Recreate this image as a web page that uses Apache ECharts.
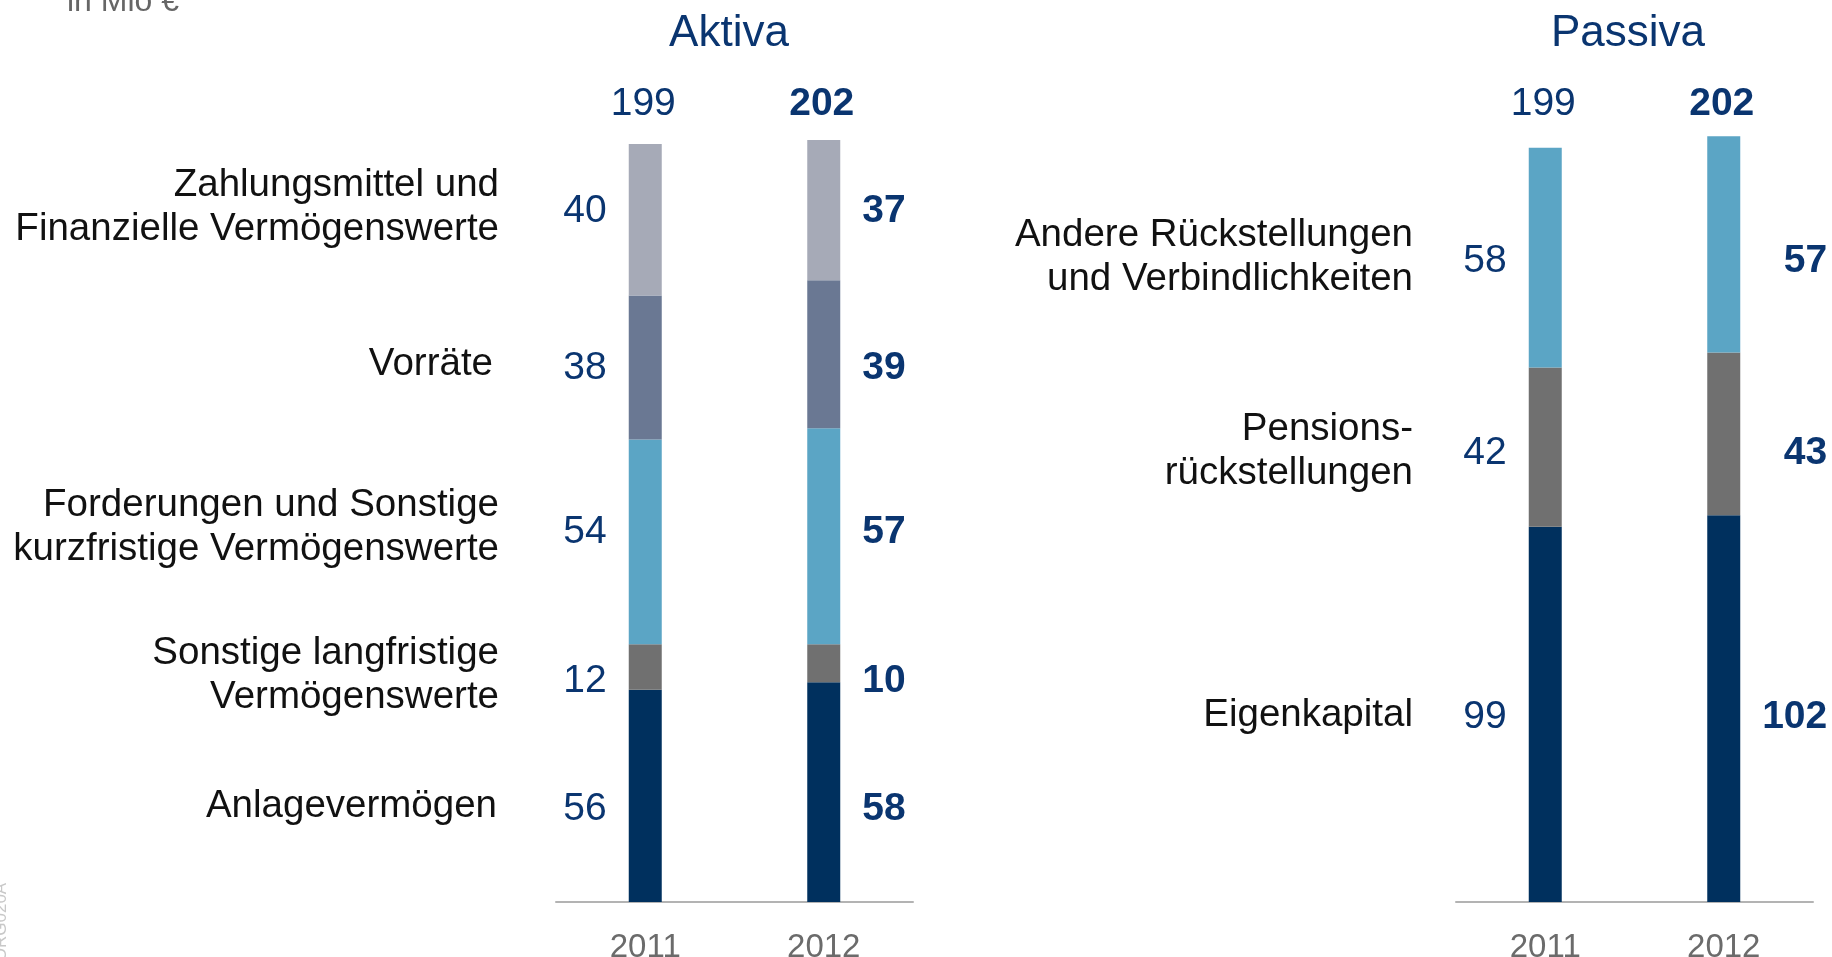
<!DOCTYPE html>
<html>
<head>
<meta charset="utf-8">
<script src="https://cdn.jsdelivr.net/npm/echarts@6/dist/echarts.min.js"></script>
<style>
html,body{margin:0;padding:0;background:#fff;}
#c{width:1832px;height:957px;}
</style>
</head>
<body>
<div id="c"></div>
<script>
// ---- data ----
const years = ['2011', '2012'];
const aktivaNames = ['Anlagevermögen', 'Sonstige langfristige\nVermögenswerte', 'Forderungen und Sonstige\nkurzfristige Vermögenswerte', 'Vorräte', 'Zahlungsmittel und\nFinanzielle Vermögenswerte'];
const aktiva2011 = [56, 12, 54, 38, 40];
const aktiva2012 = [58, 10, 57, 39, 37];
const aktivaTotals = [199, 202];
const passivaNames = ['Eigenkapital', 'Pensions-\nrückstellungen', 'Andere Rückstellungen\nund Verbindlichkeiten'];
const passiva2011 = [99, 42, 58];
const passiva2012 = [102, 43, 57];
const passivaTotals = [199, 202];
const unitText = 'in Mio €';
const codeText = 'ORG020A';

// ---- style / layout ----
const FONT = 'Liberation Sans, Arial, sans-serif';
const NAVY_TXT = '#0a3570';
const aktivaColors = ['#00305e', '#707070', '#5ba5c5', '#6a7893', '#a6aab7'];
const passivaColors = ['#00305e', '#707070', '#5ba5c5'];
const aktivaRowY = [809, 681, 532, 368, 211];
const passivaRowY = [717, 453, 261];
const aktivaTextY = [806, 675, 527, 364, 207];
const aktivaTextX = [497, 499, 499, 493, 499];
const passivaTextY = [715, 451, 257];

const chart = echarts.init(document.getElementById('c'), null, {renderer: 'canvas'});

function makeSeries(names, v2011, v2012, colors, gridIdx, stack, o2011, o2012, dist2012, align2012) {
  return names.map((n, i) => ({
    type: 'bar',
    name: n,
    stack: stack,
    xAxisIndex: gridIdx,
    yAxisIndex: gridIdx,
    barWidth: 33,
    itemStyle: {color: colors[i]},
    emphasis: {disabled: true},
    data: [
      {value: v2011[i], label: {show: true, position: 'left', distance: 22, offset: [0, o2011 ? o2011[i] : 0],
        color: NAVY_TXT, fontSize: 39, fontFamily: FONT, fontWeight: 'normal'}},
      {value: v2012[i], label: {show: true, position: 'right', distance: dist2012, align: align2012, offset: [0, o2012 ? o2012[i] : 0],
        color: NAVY_TXT, fontSize: 39, fontFamily: FONT, fontWeight: 'bold'}}
    ]
  }));
}

const axisX = (gi) => ({
  type: 'category', gridIndex: gi, data: years,
  axisLine: {lineStyle: {color: '#b3b3b3', width: 2}},
  axisTick: {show: false},
  axisLabel: {color: '#6b6b6b', fontSize: 33, fontFamily: FONT, margin: 29}
});
const axisY = (gi) => ({type: 'value', gridIndex: gi, min: 0, max: 210, show: false, splitLine: {show: false}});

function buildOption(offs) {
  return {
    animation: false,
    grid: [
      {left: 556, width: 357, top: 106, bottom: 55, containLabel: false, outerBoundsMode: 'none'},
      {left: 1456, width: 357, top: 106, bottom: 55, containLabel: false, outerBoundsMode: 'none'}
    ],
    xAxis: [axisX(0), axisX(1)],
    yAxis: [axisY(0), axisY(1)],
    series: [
      ...makeSeries(aktivaNames, aktiva2011, aktiva2012, aktivaColors, 0, 'a', offs && offs.a11, offs && offs.a12, 22, 'left'),
      ...makeSeries(passivaNames, passiva2011, passiva2012, passivaColors, 1, 'p', offs && offs.p11, offs && offs.p12, 87, 'right')
    ]
  };
}

chart.setOption(buildOption(null));

function centers(vals, yearIdx, gi) {
  let cum = 0;
  return vals.map(v => {
    const c = chart.convertToPixel({xAxisIndex: gi, yAxisIndex: gi}, [years[yearIdx], cum + v / 2]);
    cum += v;
    return c[1];
  });
}
const offs = {
  a11: centers(aktiva2011, 0, 0).map((y, i) => aktivaRowY[i] - y),
  a12: centers(aktiva2012, 1, 0).map((y, i) => aktivaRowY[i] - y),
  p11: centers(passiva2011, 0, 1).map((y, i) => passivaRowY[i] - y),
  p12: centers(passiva2012, 1, 1).map((y, i) => passivaRowY[i] - y)
};

const graphics = [];
const txt = (x, y, text, o) => Object.assign({type: 'text', x: x, y: y, silent: true,
  style: Object.assign({text: text, fontFamily: FONT, align: 'center', verticalAlign: 'middle'}, o)});

graphics.push(txt(67, 2, unitText, {fontSize: 32, fill: '#666666', align: 'left'}));
graphics.push(Object.assign(txt(1, 922, codeText, {fontSize: 17, fill: '#c8c8c8'}), {rotation: Math.PI / 2}));
graphics.push(txt(729, 34, 'Aktiva', {fontSize: 44, fill: NAVY_TXT}));
graphics.push(txt(1628, 34, 'Passiva', {fontSize: 44, fill: NAVY_TXT}));

[[aktivaTotals, 0], [passivaTotals, 1]].forEach(([tot, gi]) => {
  tot.forEach((t, yi) => {
    const x = chart.convertToPixel({xAxisIndex: gi, yAxisIndex: gi}, [years[yi], 0])[0];
    graphics.push(txt(x - 2, 104, String(t), {fontSize: 39, fill: NAVY_TXT, fontWeight: yi === 1 ? 'bold' : 'normal'}));
  });
});

aktivaNames.forEach((n, i) => {
  graphics.push(txt(aktivaTextX[i], aktivaTextY[i], n, {fontSize: 38.5, fill: '#111111', align: 'right', lineHeight: 44}));
});
passivaNames.forEach((n, i) => {
  graphics.push(txt(1413, passivaTextY[i], n, {fontSize: 38.5, fill: '#111111', align: 'right', lineHeight: 44}));
});

const opt = buildOption(offs);
opt.graphic = graphics;
chart.setOption(opt, true);
</script>
</body>
</html>
